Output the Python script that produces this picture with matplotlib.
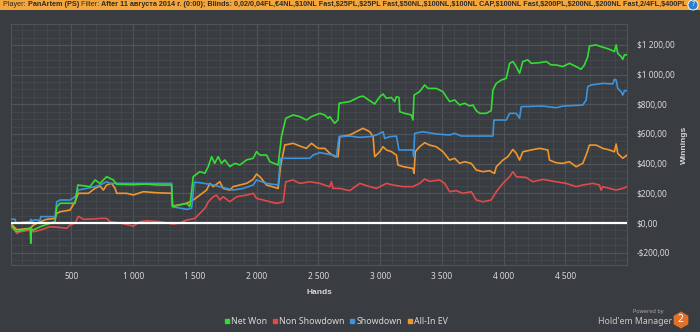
import matplotlib
matplotlib.use("Agg")
import matplotlib.pyplot as plt
from matplotlib.ticker import MultipleLocator, FuncFormatter
from matplotlib.patches import Rectangle, RegularPolygon, Circle

plt.rcParams['font.family'] = ['Noto Sans', 'DejaVu Sans']

# ---- data (hands, winnings $) ----
net_won_hands = [17, 57, 165, 170, 176, 192, 246, 367, 381, 408, 529, 551, 650, 691, 731, 785, 839, 866,
                 1000, 1100, 1200, 1311, 1319, 1433, 1459, 1486, 1540, 1580, 1608, 1635, 1660, 1688, 1715,
                 1742, 1783, 1823, 1864, 1918, 1972, 1999, 2026, 2080, 2107, 2174, 2201, 2236, 2295, 2349,
                 2403, 2444, 2511, 2551, 2578, 2592, 2632, 2659, 2668, 2754, 2835, 2862, 2916, 2956, 2997,
                 3024, 3051, 3091, 3118, 3132, 3153, 3159, 3199, 3253, 3266, 3275, 3320, 3361, 3388, 3455,
                 3509, 3536, 3563, 3604, 3644, 3684, 3725, 3752, 3779, 3806, 3860, 3900, 3914, 3941, 3981,
                 4022, 4049, 4076, 4103, 4130, 4156, 4197, 4224, 4291, 4345, 4386, 4426, 4480, 4534, 4588,
                 4628, 4655, 4682, 4696, 4750, 4790, 4831, 4871, 4898, 4912, 4925, 4952, 4966, 4979, 5000]
net_won = [-25, -58, -36, -137, -40, -47, -25, 9, 110, 133, 133, 256, 245, 290, 267, 312, 290, 261,
           258, 262, 256, 256, 110, 133, 110, 312, 346, 335, 380, 447, 402, 447, 402,
           425, 380, 402, 391, 425, 436, 481, 458, 458, 413, 391, 582, 706, 728, 717,
           694, 717, 739, 728, 706, 717, 672, 694, 807, 818, 851, 855, 824, 802, 851,
           869, 840, 846, 818, 851, 846, 750, 739, 728, 694, 862, 885, 930, 907, 907,
           885, 851, 818, 829, 795, 807, 789, 795, 757, 739, 739, 757, 896, 941, 963,
           975, 1076, 1088, 1054, 1009, 1088, 1099, 1076, 1080, 1088, 1065, 1065, 1054, 1076, 1054,
           1036, 1065, 1121, 1193, 1200, 1188, 1178, 1166, 1155, 1200, 1144, 1121, 1103, 1133, 1133]

non_sd_hands = [16, 57, 84, 165, 192, 246, 327, 408, 461, 488, 529, 556, 596, 677, 731, 785, 812, 853, 893,
                1001, 1055, 1109, 1217, 1324, 1378, 1432, 1500, 1540, 1581, 1608, 1648, 1675, 1702, 1729,
                1783, 1837, 1918, 1972, 1999, 2053, 2107, 2161, 2215, 2236, 2295, 2349, 2430, 2511, 2592,
                2606, 2619, 2673, 2754, 2835, 2916, 2970, 3051, 3105, 3186, 3266, 3320, 3361, 3401, 3482,
                3523, 3563, 3617, 3671, 3738, 3779, 3833, 3900, 3941, 3995, 4049, 4076, 4103, 4183, 4237,
                4318, 4426, 4507, 4588, 4642, 4723, 4777, 4790, 4804, 4858, 4912, 4966, 5000]
non_sd = [-25, -70, -59, -48, -59, -48, -25, -30, -36, -14, 0, 45, 25, 27, 31, 31, 9, 4, 0,
          -21, 9, 15, 9, -7, 0, 20, 31, 65, 99, 143, 177, 188, 155, 177,
          143, 177, 188, 200, 166, 155, 143, 132, 143, 278, 290, 267, 278, 267, 244,
          278, 233, 233, 218, 267, 245, 233, 267, 256, 245, 245, 267, 296, 281, 290,
          267, 211, 218, 200, 211, 155, 143, 155, 211, 267, 312, 346, 312, 307, 278,
          294, 278, 267, 245, 256, 267, 256, 222, 245, 233, 222, 233, 245]

showdown_hands = [16, 43, 51, 165, 170, 178, 192, 246, 251, 367, 381, 408, 488, 529, 556, 691, 731, 785, 812,
                  1311, 1319, 1432, 1473, 1494, 1540, 1648, 1756, 1810, 1891, 1972, 1999, 2080, 2174, 2193,
                  2430, 2457, 2511, 2619, 2646, 2668, 2754, 2835, 2916, 2970, 3024, 3037, 3078, 3132, 3153,
                  3266, 3272, 3280, 3347, 3455, 3563, 3604, 3658, 3914, 3922, 4022, 4049, 4103, 4130, 4143,
                  4318, 4426, 4480, 4642, 4669, 4682, 4709, 4804, 4885, 4898, 4912, 4925, 4952, 4966, 4979, 5000]
showdown = [25, 25, 0, 9, 25, 9, 20, 20, 43, 43, 144, 155, 155, 177, 222, 245, 256, 278, 267,
            267, 110, 92, 99, 274, 272, 256, 233, 222, 233, 256, 290, 267, 256, 436,
            436, 458, 474, 458, 447, 582, 586, 577, 582, 593, 615, 570, 582, 586, 492,
            492, 447, 604, 615, 600, 593, 604, 586, 586, 694, 694, 739, 739, 706, 784,
            788, 777, 788, 795, 829, 919, 930, 941, 937, 968, 964, 907, 885, 862, 892, 892]

allin_ev_hands = [16, 57, 165, 192, 246, 300, 367, 381, 408, 488, 529, 556, 637, 691, 731, 758, 785, 826, 853,
                  866, 947, 1001, 1082, 1190, 1311, 1319, 1432, 1486, 1540, 1594, 1621, 1648, 1702, 1729, 1783,
                  1810, 1864, 1918, 1972, 1999, 2026, 2080, 2174, 2193, 2228, 2295, 2349, 2403, 2444, 2498,
                  2552, 2592, 2633, 2660, 2673, 2754, 2835, 2862, 2916, 2943, 2956, 2997, 3024, 3051, 3091,
                  3132, 3145, 3186, 3266, 3275, 3285, 3320, 3361, 3401, 3455, 3509, 3563, 3604, 3644, 3684,
                  3738, 3779, 3833, 3887, 3927, 3941, 3995, 4035, 4076, 4103, 4130, 4156, 4224, 4291, 4359,
                  4372, 4426, 4480, 4534, 4588, 4642, 4669, 4696, 4750, 4804, 4858, 4898, 4912, 4925, 4952,
                  4966, 5000]
allin_ev = [-11, -45, -36, -14, 9, 25, 31, 65, 76, 87, 144, 200, 200, 234, 249, 222, 256, 267, 234,
            200, 200, 189, 211, 204, 200, 114, 132, 155, 188, 222, 267, 245, 278, 233, 222,
            245, 256, 267, 294, 330, 312, 256, 233, 380, 526, 537, 519, 503, 537, 503,
            503, 470, 447, 447, 582, 593, 627, 638, 615, 582, 447, 481, 514, 492, 481,
            458, 391, 380, 368, 335, 481, 514, 541, 525, 514, 481, 424, 436, 402, 413,
            402, 357, 346, 352, 334, 379, 424, 447, 496, 469, 424, 480, 492, 503, 492,
            424, 406, 402, 413, 379, 402, 458, 525, 525, 503, 492, 480, 532, 469, 447,
            436, 458]

x_ticks = [500, 1000, 1500, 2000, 2500, 3000, 3500, 4000, 4500]
y_ticks = [-200, 0, 200, 400, 600, 800, 1000, 1200]

header_text = ("Blinds: 0,02/0,04FL,\u20ac4NL,$10NL Fast,$25PL,$25PL Fast,$50NL,$100NL,$100NL CAP,"
               "$100NL Fast,$200PL,$200NL,$200NL Fast,2/4FL,$400PL")

# ---- style ----
BG = '#393c40'
GRID_MAJOR = '#505358'
GRID_MINOR = '#45484c'
TXT = '#d8d8d8'
colors = {'Net Won': '#33dd33', 'Non Showdown': '#e04a4a',
          'Showdown': '#3d94dc', 'All-In EV': '#f0962e'}

fig = plt.figure(figsize=(7.0, 3.32), dpi=100, facecolor=BG)
ax = fig.add_axes([11 / 700, 67 / 332, 616 / 700, 241 / 332], facecolor=BG)

ax.plot(non_sd_hands, non_sd, color=colors['Non Showdown'], lw=1.2, zorder=3)
ax.plot(allin_ev_hands, allin_ev, color=colors['All-In EV'], lw=1.2, zorder=4)
ax.plot(showdown_hands, showdown, color=colors['Showdown'], lw=1.2, zorder=5)
ax.plot(net_won_hands, net_won, color=colors['Net Won'], lw=1.2, zorder=6)
ax.axhline(0, color='white', lw=1.6, zorder=7)

ax.set_xlim(10, 5000)
ax.set_ylim(-283, 1341)

ax.xaxis.set_minor_locator(MultipleLocator(100))
ax.yaxis.set_minor_locator(MultipleLocator(50))
ax.set_xticks(x_ticks)
ax.set_yticks(y_ticks)
ax.xaxis.set_major_formatter(FuncFormatter(lambda v, p: f"{int(v):,}".replace(',', ' ')))


def money(v, p):
    s = f"{abs(v):,.2f}".replace(',', ' ').replace('.', ',')
    return ('-$' if v < 0 else '$') + s


ax.yaxis.set_major_formatter(FuncFormatter(money))
ax.yaxis.tick_right()
ax.yaxis.set_label_position('right')

ax.grid(which='major', color=GRID_MAJOR, lw=0.9, zorder=0)
ax.grid(which='minor', color=GRID_MINOR, lw=0.6, zorder=0)
ax.tick_params(which='both', length=0, colors=TXT, labelsize=6)
ax.tick_params(axis='x', pad=5)
ax.tick_params(axis='y', pad=7)
for s in ax.spines.values():
    s.set_color(GRID_MAJOR)

ax.set_xlabel('Hands', color=TXT, fontsize=6, fontweight='bold', labelpad=6, family='Liberation Sans')
ax.set_ylabel('Winnings', color=TXT, fontsize=6, fontweight='bold', labelpad=5, family='Liberation Sans')

# legend
order = ['Net Won', 'Non Showdown', 'Showdown', 'All-In EV']
leg_handles = [plt.Line2D([], [], marker='s', ls='', color=colors[k], markersize=3.5) for k in order]
fig.legend(leg_handles, order, loc='center', bbox_to_anchor=(336 / 700, 1 - 322 / 332), ncol=4,
           frameon=False, fontsize=6.3, labelcolor=TXT, handletextpad=0.15, columnspacing=0.5,
           handlelength=0.7)

# header bar
fig.patches.append(Rectangle((0, 1 - 10 / 332), 1, 10 / 332, transform=fig.transFigure,
                             facecolor='#f2a63c', edgecolor='none'))
y_h = 1 - 5 / 332
parts = [('Player: ', 'normal'), ('PanArtem (PS) ', 'bold'), ('Filter: ', 'normal'),
         ('After 11 \u0430\u0432\u0433\u0443\u0441\u0442\u0430 2014 \u0433. (0:00); ' + header_text, 'bold')]
r = fig.canvas.get_renderer()


def draw_header(size):
    texts = []
    x = 3
    for s, w in parts:
        t = fig.text(x / 700, y_h, s, fontsize=size, color='#2b2b2b', va='center', fontweight=w,
                     family='Liberation Sans')
        x = t.get_window_extent(r).x1
        texts.append(t)
    return texts, x


texts, x_end = draw_header(5.5)
size = 5.5 * (684 - 3) / (x_end - 3)
for t in texts:
    t.remove()
draw_header(size)

fig.patches.append(Circle((693, 332 - 5), 5, transform=None,
                          facecolor='#2a7fd0', edgecolor='white', lw=0.6))
fig.text(693 / 700, y_h, '?', fontsize=5, color='white', ha='center', va='center', fontweight='bold')

# logo
fig.text(664 / 700, 1 - 312 / 332, 'Powered by', fontsize=4, color='#a8a8a8', ha='right', va='center')
fig.text(672 / 700, 1 - 321 / 332, "Hold'em Manager", fontsize=6.3, color='#c8c8c8', ha='right', va='center')
fig.patches.append(RegularPolygon((681, 332 - 320), 6, radius=8.5, transform=None,
                                  facecolor='#e0702a', edgecolor='none'))
fig.text(681 / 700, 1 - 320 / 332, '2', fontsize=7.5, color='white', ha='center', va='center', fontweight='bold')

fig.savefig('out.png', dpi=100, facecolor=BG)
